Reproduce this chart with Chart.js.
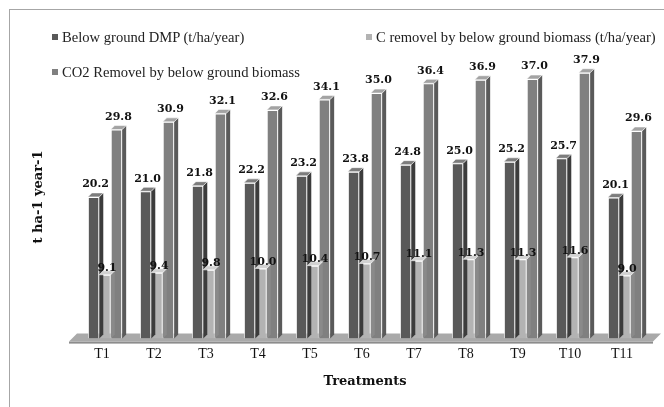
<!DOCTYPE html>
<html>
<head>
<meta charset="utf-8">
<script src="https://cdn.jsdelivr.net/npm/chart.js@4.4.0/dist/chart.umd.min.js"></script>
<style>
  body { margin: 0; background: #fff; }
  #wrap { position: relative; width: 664px; height: 407px; }
  #frame { position: absolute; left: 9px; top: 9px; width: 670px; height: 410px; border: 1px solid #a6a6a6; box-sizing: border-box; }
  .leg { position: absolute; font-family: "Liberation Serif", serif; font-size: 14.6px; color: #222; white-space: nowrap; }
  .leg i { display: inline-block; width: 6px; height: 6px; margin-right: 4px; vertical-align: 2px; }
</style>
</head>
<body>
<div id="wrap">
  <div id="frame"></div>
  <canvas id="chart" width="664" height="407"></canvas>
  <div class="leg" style="left:52px; top:29px;"><i style="background:#595959"></i>Below ground DMP (t/ha/year)</div>
  <div class="leg" style="left:366px; top:29px;"><i style="background:#b3b3b3"></i>C removel by below ground biomass (t/ha/year)</div>
  <div class="leg" style="left:52px; top:64px;"><i style="background:#808080"></i>CO2 Removel by below ground biomass</div>
</div>
<script>
const treatments = ['T1', 'T2', 'T3', 'T4', 'T5', 'T6', 'T7', 'T8', 'T9', 'T10', 'T11'];
const dmpValues = [20.2, 21.0, 21.8, 22.2, 23.2, 23.8, 24.8, 25.0, 25.2, 25.7, 20.1];
const cRemoval = [9.1, 9.4, 9.8, 10.0, 10.4, 10.7, 11.1, 11.3, 11.3, 11.6, 9.0];
const co2Removal = [29.8, 30.9, 32.1, 32.6, 34.1, 35.0, 36.4, 36.9, 37.0, 37.9, 29.6];

const fronts = ['#595959', '#b3b3b3', '#808080'];
const sides = ['#3c3c3c', '#8a8a8a', '#5a5a5a'];
const tops = ['#7c7c7c', '#d2d2d2', '#a3a3a3'];

// fake 3d: floor under the bars, then side and top faces on each bar, then value labels
const depthPlugin = {
  id: 'depth',
  beforeDatasetsDraw(chart) {
    const ctx = chart.ctx;
    const a = chart.chartArea;
    const y0 = chart.scales.y.getPixelForValue(0);
    ctx.save();
    ctx.fillStyle = '#a9a9a9';
    ctx.beginPath();
    ctx.moveTo(a.left - 10, y0 + 3);
    ctx.lineTo(a.left - 2, y0 - 5);
    ctx.lineTo(a.right + 10, y0 - 5);
    ctx.lineTo(a.right + 2, y0 + 3);
    ctx.closePath();
    ctx.fill();
    ctx.fillStyle = '#8c8c8c';
    ctx.fillRect(a.left - 10, y0 + 3, a.right - a.left + 12, 2);
    ctx.restore();
  },
  afterDatasetsDraw(chart) {
    const ctx = chart.ctx;
    const d = 4;
    ctx.save();
    chart.data.datasets.forEach((ds, i) => {
      chart.getDatasetMeta(i).data.forEach((bar, j) => {
        const l = bar.x - bar.width / 2;
        const r = bar.x + bar.width / 2;
        const t = bar.y;
        const b = bar.base;
        ctx.fillStyle = sides[i];
        ctx.beginPath();
        ctx.moveTo(r, t);
        ctx.lineTo(r + d, t - d);
        ctx.lineTo(r + d, b - d);
        ctx.lineTo(r, b);
        ctx.closePath();
        ctx.fill();
        ctx.fillStyle = tops[i];
        ctx.beginPath();
        ctx.moveTo(l, t);
        ctx.lineTo(l + d, t - d);
        ctx.lineTo(r + d, t - d);
        ctx.lineTo(r, t);
        ctx.closePath();
        ctx.fill();
        ctx.strokeStyle = 'rgba(255,255,255,0.7)';
        ctx.lineWidth = 0.8;
        ctx.stroke();
        ctx.fillStyle = '#111';
        ctx.font = 'bold 11px "DejaVu Serif"';
        ctx.textAlign = 'center';
        ctx.textBaseline = 'bottom';
        const off = i === 1 ? 1 : 7;
        ctx.fillText(ds.data[j].toFixed(1), bar.x + 2, t - off);
      });
    });
    ctx.restore();
  }
};

new Chart(document.getElementById('chart'), {
  type: 'bar',
  data: {
    labels: treatments,
    datasets: [
      { label: 'Below ground DMP (t/ha/year)', data: dmpValues },
      { label: 'C removel by below ground biomass (t/ha/year)', data: cRemoval },
      { label: 'CO2 Removel by below ground biomass', data: co2Removal }
    ].map((ds, i) => Object.assign(ds, {
      backgroundColor: fronts[i],
      borderColor: 'rgba(255,255,255,0.85)',
      borderWidth: 1,
      barPercentage: 1,
      categoryPercentage: 0.66
    }))
  },
  options: {
    responsive: false,
    animation: false,
    layout: { padding: { left: 79, right: 13, top: 58, bottom: 14 } },
    plugins: { legend: { display: false }, tooltip: { enabled: false } },
    scales: {
      x: {
        grid: { display: false },
        border: { display: false },
        ticks: { color: '#111', font: { family: 'Liberation Serif', size: 14 }, labelOffset: -3, padding: -1 },
        title: { display: true, text: 'Treatments', color: '#111', font: { family: 'DejaVu Serif', size: 13, weight: 'bold' }, padding: { top: 12 } }
      },
      y: {
        display: false,
        min: 0,
        max: 40
      }
    }
  },
  plugins: [depthPlugin]
});
</script>
<div style="position:absolute; left:37px; top:197px; transform: translate(-50%,-50%) rotate(-90deg); font: bold 13px 'DejaVu Serif'; color:#111; white-space:nowrap;">t ha-1 year-1</div>
</body>
</html>
